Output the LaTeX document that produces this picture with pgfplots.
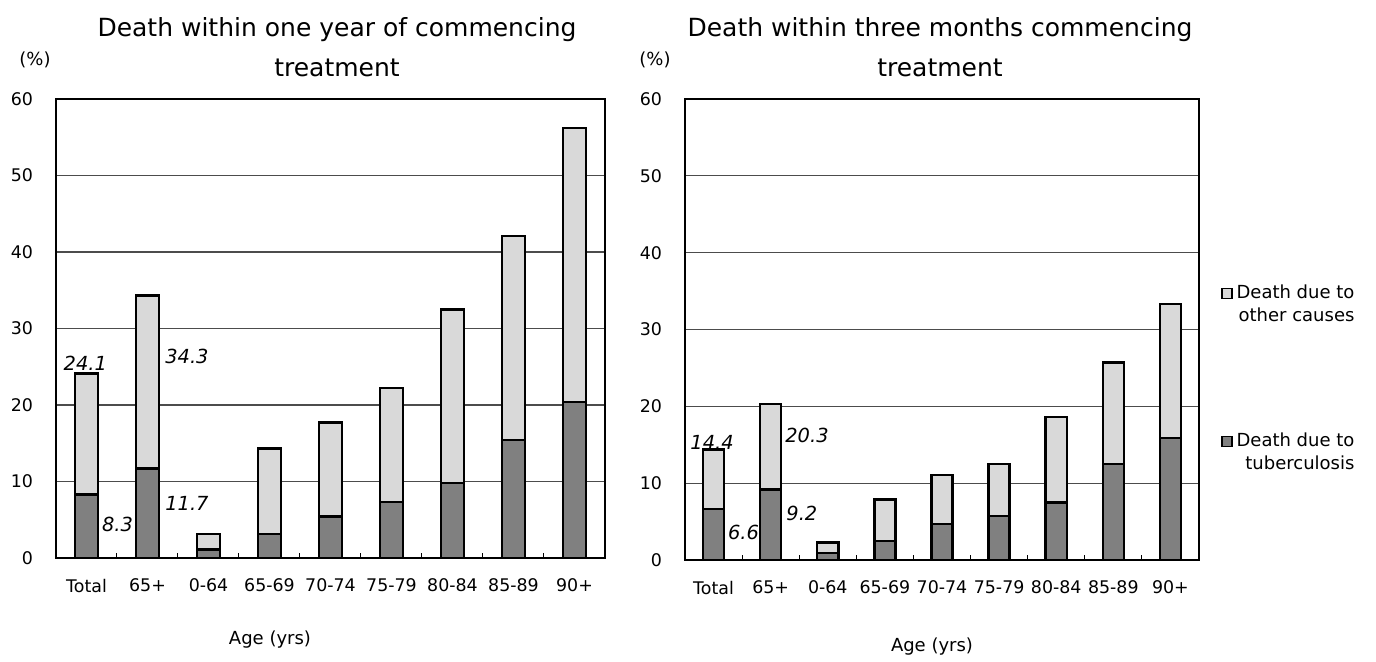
\documentclass[border=0pt]{standalone}
\usepackage{fontspec}
\setmainfont{DejaVu Sans}
\usepackage{pgfplots}
\pgfplotsset{compat=1.18}
\definecolor{tb}{HTML}{808080}
\definecolor{oth}{HTML}{D9D9D9}
\newcommand{\itlab}{\fontsize{9.7}{11}\selectfont\itshape}
\pgfplotsset{
 deathax/.style={
  scale only axis, ybar stacked, bar width=0.37,
  xmin=-0.5, xmax=8.5, ymin=0, ymax=60,
  xtick={0,...,8},
  xticklabels={Total,65+,0-64,65-69,70-74,75-79,80-84,85-89,90+},
  minor xtick={0.5,1.5,...,7.5},
  tick pos=left,
  major tick length=0pt,
  minor tick length=2.5pt, tick align=inside,
  minor tick style={black, line width=0.5pt},
  ytick={0,10,...,60},
  ymajorgrids, major grid style={black!70, line width=0.6pt},
  axis line style={black, line width=1.2pt},
  tick label style={font=\fontsize{8.7}{10}\selectfont},
  xticklabel style={yshift=-7pt},
  yticklabel style={xshift=-8pt},
  /pgf/number format/assume math mode=true,
  every axis plot/.append style={draw=black, line width=1.2pt},
 }
}
\begin{document}
\begin{tikzpicture}
\path[use as bounding box] (0,0) rectangle (688pt,330.5pt);
% left chart
\begin{axis}[deathax, at={(28pt,51.5pt)}, anchor=south west, width=274.5pt, height=229.5pt]
\addplot[fill=tb] coordinates {(0,8.3) (1,11.7) (2,1.1) (3,3.1) (4,5.4) (5,7.3) (6,9.8) (7,15.4) (8,20.4)};
\addplot[fill=oth] coordinates {(0,15.8) (1,22.6) (2,2.0) (3,11.2) (4,12.3) (5,14.9) (6,22.7) (7,26.7) (8,35.8)};
\node[font=\itlab, inner sep=0pt] at (axis cs:-0.02,25.5) {24.1};
\node[font=\itlab, inner sep=0pt, anchor=west] at (axis cs:0.25,4.35) {8.3};
\node[font=\itlab, inner sep=0pt, anchor=west] at (axis cs:1.287,26.4) {34.3};
\node[font=\itlab, inner sep=0pt, anchor=west] at (axis cs:1.287,7.2) {11.7};
\end{axis}
% right chart
\begin{axis}[deathax, at={(342.5pt,50.5pt)}, anchor=south west, width=257pt, height=230.5pt,
  reverse legend,
  legend image code/.code={\draw[#1, line width=0.6pt] (0pt,3.25pt) rectangle (5pt,8.25pt);},
  legend style={draw=none, fill=none, at={(1,0.393)}, anchor=west, xshift=8pt,
    row sep=50pt, font=\fontsize{9}{11.5}\selectfont, cells={align=right}}]
\addplot[fill=tb] coordinates {(0,6.6) (1,9.2) (2,0.9) (3,2.5) (4,4.7) (5,5.7) (6,7.5) (7,12.5) (8,15.9)};
\addlegendentry{Death due to\\tuberculosis}
\addplot[fill=oth] coordinates {(0,7.8) (1,11.1) (2,1.4) (3,5.4) (4,6.4) (5,6.8) (6,11.1) (7,13.2) (8,17.4)};
\addlegendentry{Death due to\\other causes}
\node[font=\itlab, inner sep=0pt] at (axis cs:-0.027,15.3) {14.4};
\node[font=\itlab, inner sep=0pt, anchor=west] at (axis cs:0.248,3.56) {6.6};
\node[font=\itlab, inner sep=0pt, anchor=west] at (axis cs:1.251,16.2) {20.3};
\node[font=\itlab, inner sep=0pt, anchor=west] at (axis cs:1.269,6.1) {9.2};
\end{axis}
% titles and labels
\node[align=center, font=\fontsize{12.5}{20}\selectfont] at (168.5pt,307pt) {Death within one year of commencing\\treatment};
\node[align=center, font=\fontsize{12.5}{20}\selectfont] at (470pt,307pt) {Death within three months commencing\\treatment};
\node[font=\fontsize{9}{11}\selectfont] at (17.5pt,300.5pt) {(\%)};
\node[font=\fontsize{9}{11}\selectfont] at (327.5pt,300.5pt) {(\%)};
\node[font=\fontsize{9}{11}\selectfont] at (135pt,10.5pt) {Age (yrs)};
\node[font=\fontsize{9}{11}\selectfont] at (466pt,7pt) {Age (yrs)};
\end{tikzpicture}
\end{document}
